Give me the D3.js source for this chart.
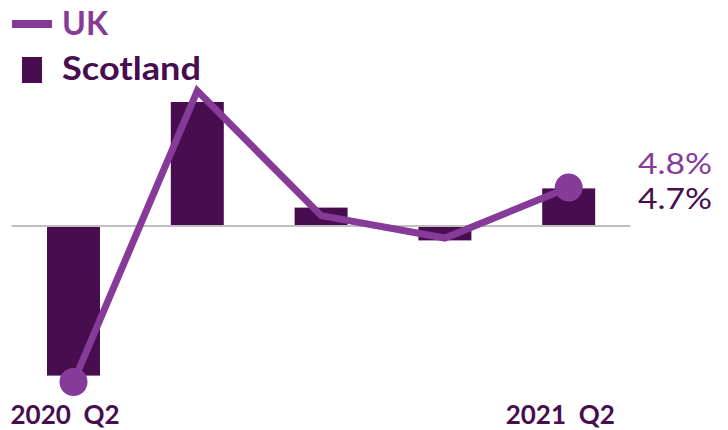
<!DOCTYPE html>
<html><head><meta charset="utf-8">
<script src="https://cdn.jsdelivr.net/npm/d3@7"></script>
<style>html,body{margin:0;padding:0;background:#fff;} svg{display:block;}</style>
</head><body>
<svg id="chart" width="728" height="430"></svg>
<script>
const quarters = ["2020 Q2", "2020 Q3", "2020 Q4", "2021 Q1", "2021 Q2"];
const scotland = [-18.7, 15.5, 2.3, -1.8, 4.7];
const uk = [-19.5, 16.9, 1.3, -1.5, 4.8];
const xLabels = ["2020  Q2", "", "", "", "2021  Q2"];
const seriesNames = ["UK", "Scotland"];

const barColor = "#470d4f";
const lineColor = "#873b98";
const font = "Lato, 'Open Sans', sans-serif";

const svg = d3.select("#chart");
const x = d3.scaleBand().domain(quarters).range([11.6, 630.6]).paddingInner(0.572).paddingOuter(0.286);
const y = d3.scaleLinear().domain([-20, 17.5]).range([386, 86]);

// bars
svg.append("g").selectAll("rect").data(quarters).join("rect")
  .attr("x", d => x(d))
  .attr("width", x.bandwidth())
  .attr("y", (d, i) => y(Math.max(0, scotland[i])))
  .attr("height", (d, i) => Math.abs(y(scotland[i]) - y(0)))
  .attr("fill", barColor);

// zero line
svg.append("line").attr("x1", 11.6).attr("x2", 630.6)
  .attr("y1", y(0)).attr("y2", y(0))
  .attr("stroke", "#bfbfbf").attr("stroke-width", 2);

// UK line
const cx = d => x(d) + x.bandwidth() / 2;
const line = d3.line().x((d, i) => cx(quarters[i])).y(d => y(d));
svg.append("path").datum(uk).attr("d", line)
  .attr("fill", "none").attr("stroke", lineColor).attr("stroke-width", 7)
  .attr("stroke-linejoin", "miter");

[0, uk.length - 1].forEach(i => {
  svg.append("circle").attr("cx", cx(quarters[i])).attr("cy", y(uk[i])).attr("r", 14)
    .attr("fill", lineColor);
});

// end labels
const last = uk.length - 1;
svg.append("text").attr("x", 638).attr("y", 174).text(uk[last].toFixed(1) + "%")
  .attr("fill", lineColor).attr("font-family", font).attr("font-size", 29)
  .attr("textLength", 74).attr("lengthAdjust", "spacingAndGlyphs");
svg.append("text").attr("x", 638).attr("y", 209).text(scotland[last].toFixed(1) + "%")
  .attr("fill", barColor).attr("font-family", font).attr("font-size", 29)
  .attr("textLength", 74).attr("lengthAdjust", "spacingAndGlyphs");

// x labels
svg.append("g").selectAll("text").data(quarters).join("text")
  .attr("x", d => cx(d) - 63)
  .attr("y", 424)
  .attr("text-anchor", "start")
  .attr("font-family", font).attr("font-weight", "bold").attr("font-size", 26)
  .attr("fill", barColor)
  .attr("xml:space", "preserve")
  .style("white-space", "pre")
  .text((d, i) => xLabels[i]);

// legend
const lg = svg.append("g");
lg.append("line").attr("x1", 12).attr("x2", 52).attr("y1", 24).attr("y2", 24)
  .attr("stroke", lineColor).attr("stroke-width", 8);
lg.append("text").attr("x", 62).attr("y", 35).text(seriesNames[0])
  .attr("fill", lineColor).attr("font-family", font).attr("font-weight", "bold").attr("font-size", 32)
  .attr("textLength", 46).attr("lengthAdjust", "spacingAndGlyphs");
lg.append("rect").attr("x", 22).attr("y", 57).attr("width", 20).attr("height", 26).attr("fill", barColor);
lg.append("text").attr("x", 62).attr("y", 80).text(seriesNames[1])
  .attr("fill", barColor).attr("font-family", font).attr("font-weight", "bold").attr("font-size", 32)
  .attr("textLength", 139).attr("lengthAdjust", "spacingAndGlyphs");
</script>
</body></html>
